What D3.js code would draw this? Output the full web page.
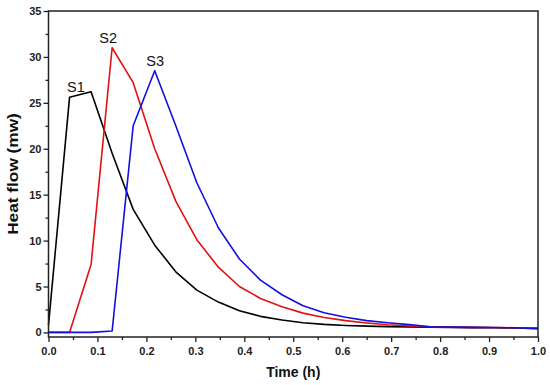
<!DOCTYPE html>
<html>
<head>
<meta charset="utf-8">
<script src="https://cdn.jsdelivr.net/npm/d3@7"></script>
<style>
  body { margin: 0; background: #fff; }
  text { font-family: "Liberation Sans", Arial, sans-serif; }
</style>
</head>
<body>
<svg id="chart" width="550" height="385"></svg>
<script>
// sampling times (h)
const time = [0, 0.043, 0.087, 0.13, 0.173, 0.217, 0.26, 0.303, 0.347, 0.39,
  0.433, 0.477, 0.52, 0.563, 0.607, 0.65, 0.693, 0.737, 0.78, 0.823,
  0.867, 0.91, 0.953, 1.0];

// heat flow (mw) per sample
const s1 = [0.8, 25.6, 26.2, 19.5, 13.4, 9.5, 6.6, 4.6, 3.3, 2.35,
  1.75, 1.35, 1.05, 0.87, 0.76, 0.68, 0.63, 0.6, 0.57, 0.55,
  0.52, 0.5, 0.48, 0.45];
const s2 = [0, 0, 7.4, 31.0, 27.2, 20.0, 14.3, 10.1, 7.1, 5.0,
  3.7, 2.8, 2.1, 1.62, 1.28, 1.03, 0.83, 0.7, 0.62, 0.58,
  0.55, 0.53, 0.51, 0.5];
const s3 = [0, 0, 0, 0.15, 22.5, 28.5, 22.5, 16.3, 11.4, 8.0,
  5.7, 4.1, 2.9, 2.15, 1.65, 1.28, 1.05, 0.85, 0.62, 0.58,
  0.55, 0.53, 0.5, 0.38];

const seriesNames = ["S1", "S2", "S3"];
const seriesColors = ["#000000", "#e41010", "#1010e0"];
// label anchor (data coords)
const labelX = [0.056, 0.122, 0.218];
const labelY = [26.2, 31.5, 29.0];

const xTicks = [0, 0.1, 0.2, 0.3, 0.4, 0.5, 0.6, 0.7, 0.8, 0.9, 1.0];
const xMinor = [0.05, 0.15, 0.25, 0.35, 0.45, 0.55, 0.65, 0.75, 0.85, 0.95];
const yTicks = [0, 5, 10, 15, 20, 25, 30, 35];
const yMinor = [2.5, 7.5, 12.5, 17.5, 22.5, 27.5, 32.5];

const plotL = 48.5, plotR = 538, plotT = 11, plotB = 337;

const svg = d3.select("#chart");

const x = d3.scaleLinear().domain([0, 1]).range([plotL, plotR]);
const y = d3.scaleLinear().domain([-0.5, 35]).range([plotB, plotT]);

// minor ticks
svg.append("g")
  .attr("transform", "translate(0," + plotB + ")")
  .call(d3.axisBottom(x).tickValues(xMinor).tickSize(3).tickFormat(""))
  .call((g) => g.select(".domain").remove());
svg.append("g")
  .attr("transform", "translate(" + plotL + ",0)")
  .call(d3.axisLeft(y).tickValues(yMinor).tickSize(3).tickFormat(""))
  .call((g) => g.select(".domain").remove());

// major ticks
const xAxis = svg.append("g")
  .attr("transform", "translate(0," + plotB + ")")
  .call(d3.axisBottom(x).tickValues(xTicks).tickSize(5).tickPadding(5).tickFormat(d3.format(".1f")));
xAxis.select(".domain").remove();

const yAxis = svg.append("g")
  .attr("transform", "translate(" + plotL + ",0)")
  .call(d3.axisLeft(y).tickValues(yTicks).tickSize(5).tickPadding(2).tickFormat(d3.format("d")));
yAxis.select(".domain").remove();

svg.selectAll(".tick line").attr("stroke", "#222").attr("stroke-width", 1.3);
svg.selectAll(".tick text")
  .attr("fill", "#222")
  .style("font-size", "11px")
  .style("font-weight", "bold")
  .style("font-family", "'Liberation Sans', Arial, sans-serif");

// curves
const line = d3.line()
  .x((d) => x(d[0]))
  .y((d) => y(d[1]));

[s1, s2, s3].forEach((vals, i) => {
  svg.append("path")
    .datum(time.map((t, k) => [t, vals[k]]))
    .attr("fill", "none")
    .attr("stroke", seriesColors[i])
    .attr("stroke-width", 1.6)
    .attr("stroke-linejoin", "round")
    .attr("d", line);
});

// frame
svg.append("rect")
  .attr("x", plotL)
  .attr("y", plotT)
  .attr("width", plotR - plotL)
  .attr("height", plotB - plotT)
  .attr("fill", "none")
  .attr("stroke", "#222")
  .attr("stroke-width", 1.5);

// series labels
seriesNames.forEach((name, i) => {
  svg.append("text")
    .attr("x", x(labelX[i]))
    .attr("y", y(labelY[i]))
    .attr("text-anchor", "middle")
    .style("font-size", "14.5px")
    .attr("fill", "#111")
    .text(name);
});

// axis titles
svg.append("text")
  .attr("x", (plotL + plotR) / 2)
  .attr("y", 377)
  .attr("text-anchor", "middle")
  .style("font-size", "14px")
  .style("font-weight", "bold")
  .attr("fill", "#111")
  .text("Time (h)");

svg.append("text")
  .attr("transform", "translate(17.5," + (plotT + plotB) / 2 + ") rotate(-90) scale(1.15,1)")
  .attr("text-anchor", "middle")
  .style("font-size", "15px")
  .style("font-weight", "bold")
  .attr("fill", "#111")
  .text("Heat flow (mw)");
</script>
</body>
</html>
